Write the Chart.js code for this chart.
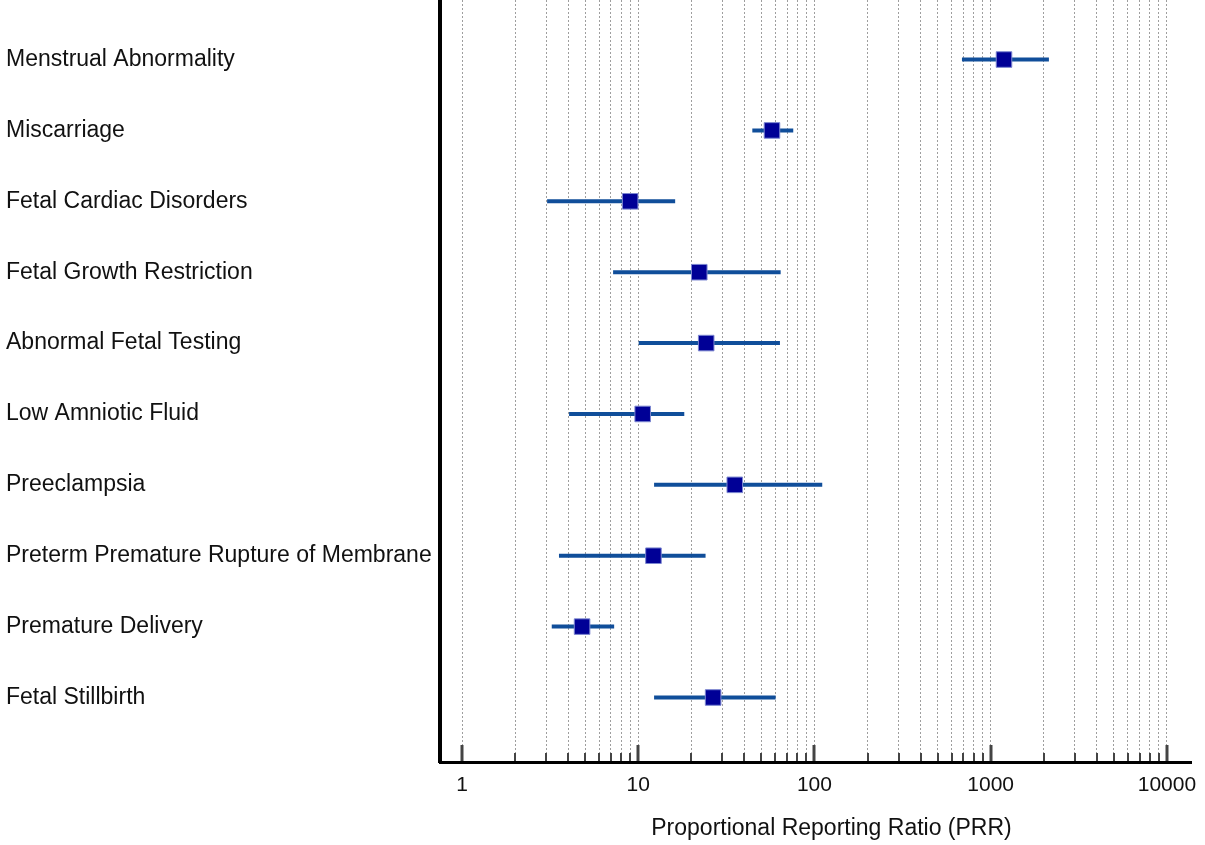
<!DOCTYPE html>
<html>
<head>
<meta charset="utf-8">
<script src="https://cdn.jsdelivr.net/npm/chart.js@4/dist/chart.umd.min.js"></script>
<style>
  html, body { margin: 0; padding: 0; background: #fff; }
  #wrap { width: 1205px; height: 845px; position: relative; }
</style>
</head>
<body>
<div id="wrap"><canvas id="chart"></canvas></div>
<script>
// outcomes, top to bottom
const categories = [
  'Menstrual Abnormality',
  'Miscarriage',
  'Fetal Cardiac Disorders',
  'Fetal Growth Restriction',
  'Abnormal Fetal Testing',
  'Low Amniotic Fluid',
  'Preeclampsia',
  'Preterm Premature Rupture of Membrane',
  'Premature Delivery',
  'Fetal Stillbirth'
];
const prr   = [1190, 57.4, 9.0, 22.2, 24.3, 10.6, 35.3, 12.2, 4.8, 26.6];
const lower = [687, 44.4, 3.04, 7.2, 10.06, 4.05, 12.3, 3.55, 3.23, 12.3];
const upper = [2140, 75.8, 16.2, 64.3, 63.7, 18.25, 110.7, 24.1, 7.3, 60.2];

const decadeValues = [1, 10, 100, 1000, 10000];
const decadeLabels = ['1', '10', '100', '1000', '10000'];
const axisTitle = 'Proportional Reporting Ratio (PRR)';

const FONT = '"Liberation Sans", Arial, sans-serif';

// 1..9 x 10^k tick positions (grid + tick marks)
const logTicks = [];
decadeValues.forEach((d, k) => {
  const last = k === decadeValues.length - 1;
  for (let m = 1; m <= (last ? 1 : 9); m++) logTicks.push(d * m);
});

const datasets = [];
// squares first so they sit on top of the CI lines
datasets.push({
  type: 'scatter',
  data: prr.map((v, i) => ({ x: v, y: i })),
  pointStyle: 'rect',
  pointRadius: 11,
  backgroundColor: '#000096',
  borderColor: '#7b86d0',
  borderWidth: 1
});
categories.forEach((c, i) => {
  datasets.push({
    type: 'line',
    data: [{ x: lower[i], y: i }, { x: upper[i], y: i }],
    borderColor: '#104e9a',
    borderWidth: 4,
    pointRadius: 0,
    borderCapStyle: 'butt'
  });
});

// inward tick marks on the x axis (long at decades, short in between)
const innerTicks = {
  id: 'innerTicks',
  afterDraw(chart) {
    const x = chart.scales.x;
    const ctx = chart.ctx;
    const base = chart.chartArea.bottom - 1;
    ctx.save();
    ctx.strokeStyle = '#444';
    logTicks.forEach(v => {
      const major = decadeValues.includes(v);
      const px = Math.round(x.getPixelForValue(v));
      ctx.lineWidth = major ? 3 : 2;
      ctx.beginPath();
      ctx.moveTo(px, base);
      ctx.lineTo(px, base - (major ? 16 : 8));
      ctx.stroke();
    });
    ctx.restore();
  }
};

// x axis title, sits a bit right of the plot centre like the original
const xTitle = {
  id: 'xTitle',
  afterDraw(chart) {
    const a = chart.chartArea;
    const ctx = chart.ctx;
    ctx.save();
    ctx.font = '23px ' + FONT;
    ctx.fillStyle = '#111';
    ctx.textAlign = 'center';
    ctx.textBaseline = 'middle';
    ctx.fillText(axisTitle, (a.left + a.right) / 2 + 16, chart.height - 16);
    ctx.restore();
  }
};

new Chart(document.getElementById('chart'), {
  data: { datasets },
  options: {
    responsive: true,
    maintainAspectRatio: false,
    animation: false,
    events: [],
    layout: { autoPadding: false, padding: { left: 6, right: 14, top: 0, bottom: 0 } },
    plugins: { legend: { display: false }, tooltip: { enabled: false } },
    scales: {
      x: {
        type: 'logarithmic',
        position: 'bottom',
        min: 0.75,
        max: 13700,
        afterBuildTicks: (scale) => { scale.ticks = logTicks.map(v => ({ value: v })); },
        afterFit: (scale) => {
          scale.height = 83;
          scale.paddingLeft = 0;
          scale.paddingRight = 0;
        },
        grid: { drawTicks: false, color: 'rgba(0,0,0,0.38)', lineWidth: 1 },
        border: { display: true, color: '#000', width: 3, dash: [2, 2] },
        ticks: {
          autoSkip: false,
          maxRotation: 0,
          padding: 11,
          color: '#111',
          font: { family: FONT, size: 21 },
          callback: (value) => {
            const k = decadeValues.indexOf(value);
            return k >= 0 ? decadeLabels[k] : '';
          }
        }
      },
      y: {
        type: 'linear',
        reverse: true,
        min: -0.84,
        max: 9.91,
        afterBuildTicks: (scale) => { scale.ticks = categories.map((c, i) => ({ value: i })); },
        afterFit: (scale) => {
          scale.width = 434;
          scale.paddingTop = 0;
          scale.paddingBottom = 0;
        },
        grid: { display: false, drawTicks: false },
        border: { display: true, color: '#000', width: 4 },
        ticks: {
          autoSkip: false,
          crossAlign: 'far',
          color: '#111',
          font: { family: FONT, size: 23 },
          callback: (value) => categories[value] ?? ''
        }
      }
    }
  },
  plugins: [innerTicks, xTitle]
});
</script>
</body>
</html>
